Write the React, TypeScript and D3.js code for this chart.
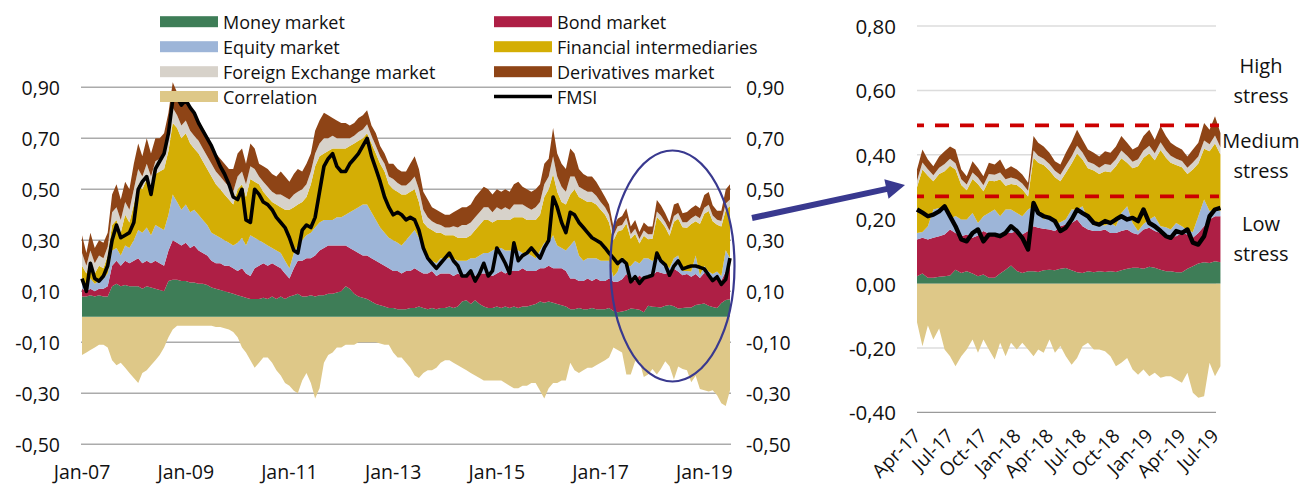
import React from "react";
import * as d3 from "d3";

// ---------------- LEFT PANEL: monthly, Jan-2007 .. Jul-2019 (151 months) ----------------
const leftStart = new Date(2007, 0, 1);

const moneyL = [
  0.08, 0.08, 0.085, 0.08, 0.085, 0.08, 0.08, 0.12, 0.13, 0.12,
  0.125, 0.12, 0.12, 0.12, 0.11, 0.12, 0.115, 0.11, 0.105, 0.10,
  0.14, 0.145, 0.145, 0.14, 0.14, 0.135, 0.135, 0.13, 0.13, 0.125,
  0.115, 0.11, 0.105, 0.10, 0.095, 0.09, 0.085, 0.08, 0.075, 0.07,
  0.07, 0.07, 0.075, 0.07, 0.08, 0.07, 0.08, 0.07, 0.08, 0.085,
  0.09, 0.08, 0.08, 0.085, 0.08, 0.085, 0.085, 0.09, 0.09, 0.095,
  0.10, 0.12, 0.11, 0.09, 0.08, 0.075, 0.07, 0.06, 0.05, 0.045,
  0.04, 0.035, 0.035, 0.03, 0.03, 0.03, 0.035, 0.035, 0.04, 0.035,
  0.03, 0.035, 0.03, 0.035, 0.035, 0.04, 0.035, 0.04, 0.06, 0.065,
  0.05, 0.065, 0.05, 0.04, 0.035, 0.035, 0.04, 0.035, 0.04, 0.035,
  0.04, 0.035, 0.04, 0.04, 0.045, 0.05, 0.06, 0.055, 0.06, 0.055,
  0.05, 0.045, 0.04, 0.03, 0.03, 0.035, 0.03, 0.03, 0.035, 0.03,
  0.03, 0.03, 0.035, 0.023, 0.018, 0.021, 0.025, 0.033, 0.031, 0.028,
  0.018, 0.043, 0.039, 0.038, 0.036, 0.043, 0.046, 0.041, 0.033, 0.035,
  0.036, 0.036, 0.046, 0.049, 0.052, 0.043, 0.038, 0.035, 0.054, 0.066,
  0.069,
];
const bondL = [
  0.03, 0.02, 0.025, 0.02, 0.025, 0.03, 0.04, 0.08, 0.09, 0.08,
  0.095, 0.09, 0.10, 0.11, 0.10, 0.10, 0.095, 0.11, 0.105, 0.10,
  0.12, 0.155, 0.145, 0.14, 0.15, 0.135, 0.145, 0.13, 0.12, 0.115,
  0.105, 0.10, 0.105, 0.10, 0.105, 0.10, 0.095, 0.11, 0.095, 0.09,
  0.12, 0.13, 0.135, 0.13, 0.13, 0.13, 0.11, 0.10, 0.07, 0.105,
  0.13, 0.14, 0.15, 0.145, 0.16, 0.175, 0.185, 0.19, 0.19, 0.185,
  0.18, 0.16, 0.16, 0.17, 0.17, 0.165, 0.17, 0.17, 0.17, 0.165,
  0.16, 0.155, 0.145, 0.15, 0.14, 0.15, 0.145, 0.155, 0.14, 0.135,
  0.14, 0.145, 0.13, 0.135, 0.135, 0.13, 0.125, 0.13, 0.10, 0.105,
  0.12, 0.095, 0.12, 0.13, 0.135, 0.125, 0.13, 0.145, 0.13, 0.145,
  0.14, 0.145, 0.15, 0.14, 0.135, 0.13, 0.13, 0.135, 0.14, 0.135,
  0.14, 0.145, 0.14, 0.12, 0.12, 0.105, 0.11, 0.12, 0.105, 0.12,
  0.11, 0.11, 0.115, 0.114, 0.119, 0.126, 0.143, 0.114, 0.111, 0.135,
  0.129, 0.114, 0.124, 0.14, 0.137, 0.125, 0.132, 0.147, 0.145, 0.128,
  0.132, 0.121, 0.122, 0.103, 0.121, 0.114, 0.109, 0.122, 0.088, 0.112,
  0.14,
];
const equityL = [
  0.03, 0.02, 0.04, 0.03, 0.03, 0.04, 0.05, 0.06, 0.05, 0.04,
  0.06, 0.06, 0.08, 0.11, 0.12, 0.13, 0.11, 0.14, 0.14, 0.14,
  0.14, 0.18, 0.16, 0.14, 0.15, 0.14, 0.14, 0.14, 0.13, 0.12,
  0.11, 0.11, 0.10, 0.10, 0.09, 0.09, 0.11, 0.12, 0.11, 0.16,
  0.12, 0.10, 0.08, 0.08, 0.06, 0.06, 0.06, 0.05, 0.04, 0.06,
  0.06, 0.08, 0.09, 0.10, 0.11, 0.11, 0.11, 0.10, 0.10, 0.11,
  0.11, 0.12, 0.14, 0.16, 0.18, 0.20, 0.20, 0.18, 0.16, 0.14,
  0.13, 0.12, 0.12, 0.11, 0.11, 0.12, 0.14, 0.15, 0.13, 0.10,
  0.07, 0.04, 0.05, 0.06, 0.06, 0.06, 0.07, 0.05, 0.06, 0.05,
  0.06, 0.07, 0.07, 0.08, 0.08, 0.10, 0.10, 0.09, 0.09, 0.08,
  0.08, 0.08, 0.06, 0.07, 0.06, 0.05, 0.07, 0.10, 0.09, 0.13,
  0.09, 0.08, 0.08, 0.13, 0.15, 0.10, 0.08, 0.08, 0.09, 0.08,
  0.08, 0.08, 0.07, 0.02, 0.041, 0.088, 0.032, 0.052, 0.077, 0.046,
  0.083, 0.073, 0.056, 0.062, 0.057, 0.041, 0.012, 0.042, 0.062, 0.017,
  0.012, 0.021, 0.072, 0.011, 0.026, 0.021, 0.021, 0.021, 0.018, 0.083,
  0.021,
];
const finIntL = [
  0.06, 0.05, 0.07, 0.04, 0.06, 0.04, 0.07, 0.10, 0.11, 0.09,
  0.12, 0.10, 0.14, 0.18, 0.17, 0.19, 0.17, 0.20, 0.22, 0.24,
  0.25, 0.28, 0.29, 0.28, 0.28, 0.27, 0.24, 0.24, 0.23, 0.22,
  0.22, 0.20, 0.19, 0.18, 0.17, 0.16, 0.21, 0.21, 0.19, 0.22,
  0.22, 0.22, 0.20, 0.19, 0.18, 0.18, 0.18, 0.20, 0.23, 0.18,
  0.16, 0.15, 0.15, 0.19, 0.24, 0.26, 0.26, 0.27, 0.28, 0.27,
  0.27, 0.26, 0.26, 0.26, 0.26, 0.26, 0.28, 0.27, 0.26, 0.25,
  0.24, 0.21, 0.20, 0.20, 0.20, 0.18, 0.17, 0.16, 0.14, 0.10,
  0.11, 0.12, 0.12, 0.10, 0.09, 0.09, 0.09, 0.09, 0.09, 0.09,
  0.09, 0.11, 0.12, 0.13, 0.13, 0.11, 0.11, 0.11, 0.12, 0.12,
  0.13, 0.13, 0.14, 0.13, 0.14, 0.15, 0.14, 0.18, 0.21, 0.24,
  0.21, 0.18, 0.18, 0.20, 0.20, 0.23, 0.24, 0.22, 0.22, 0.21,
  0.20, 0.18, 0.15, 0.142, 0.157, 0.105, 0.166, 0.107, 0.106, 0.078,
  0.088, 0.074, 0.087, 0.151, 0.145, 0.142, 0.128, 0.143, 0.145, 0.171,
  0.169, 0.186, 0.135, 0.201, 0.205, 0.237, 0.207, 0.183, 0.194, 0.158,
  0.205,
];
const fxL = [
  0.05, 0.03, 0.04, 0.04, 0.04, 0.04, 0.035, 0.05, 0.05, 0.05,
  0.05, 0.05, 0.06, 0.06, 0.05, 0.06, 0.06, 0.05, 0.05, 0.05,
  0.06, 0.06, 0.05, 0.05, 0.05, 0.05, 0.05, 0.05, 0.05, 0.05,
  0.05, 0.05, 0.05, 0.05, 0.05, 0.05, 0.05, 0.05, 0.05, 0.05,
  0.05, 0.03, 0.04, 0.04, 0.04, 0.04, 0.05, 0.05, 0.04, 0.05,
  0.05, 0.05, 0.05, 0.05, 0.05, 0.05, 0.06, 0.05, 0.05, 0.04,
  0.04, 0.04, 0.03, 0.03, 0.035, 0.035, 0.035, 0.03, 0.03, 0.03,
  0.03, 0.03, 0.04, 0.035, 0.035, 0.035, 0.04, 0.05, 0.05, 0.05,
  0.04, 0.035, 0.035, 0.03, 0.03, 0.03, 0.035, 0.04, 0.05, 0.05,
  0.05, 0.05, 0.05, 0.05, 0.05, 0.04, 0.05, 0.04, 0.05, 0.04,
  0.05, 0.05, 0.05, 0.05, 0.04, 0.05, 0.05, 0.05, 0.05, 0.07,
  0.06, 0.06, 0.05, 0.07, 0.05, 0.04, 0.04, 0.04, 0.04, 0.035,
  0.03, 0.03, 0.03, 0.02, 0.02, 0.02, 0.022, 0.018, 0.02, 0.018,
  0.02, 0.02, 0.018, 0.022, 0.022, 0.02, 0.02, 0.022, 0.022, 0.02,
  0.022, 0.022, 0.022, 0.022, 0.024, 0.024, 0.022, 0.02, 0.022, 0.025,
  0.025,
];
const derivL = [
  0.07, 0.05, 0.07, 0.06, 0.06, 0.06, 0.055, 0.07, 0.09, 0.08,
  0.08, 0.08, 0.10, 0.10, 0.08, 0.10, 0.09, 0.09, 0.08, 0.09,
  0.09, 0.10, 0.09, 0.09, 0.09, 0.09, 0.09, 0.08, 0.08, 0.08,
  0.08, 0.07, 0.07, 0.07, 0.07, 0.09, 0.09, 0.09, 0.08, 0.09,
  0.08, 0.05, 0.06, 0.07, 0.07, 0.07, 0.09, 0.08, 0.07, 0.08,
  0.09, 0.07, 0.08, 0.07, 0.09, 0.09, 0.10, 0.09, 0.07, 0.07,
  0.06, 0.06, 0.05, 0.05, 0.055, 0.055, 0.055, 0.04, 0.05, 0.04,
  0.04, 0.05, 0.06, 0.055, 0.055, 0.055, 0.07, 0.08, 0.08, 0.07,
  0.07, 0.055, 0.055, 0.05, 0.05, 0.05, 0.055, 0.07, 0.07, 0.07,
  0.07, 0.08, 0.08, 0.08, 0.07, 0.07, 0.07, 0.07, 0.07, 0.07,
  0.08, 0.09, 0.07, 0.07, 0.07, 0.07, 0.07, 0.08, 0.07, 0.11,
  0.09, 0.09, 0.09, 0.11, 0.09, 0.07, 0.06, 0.06, 0.06, 0.055,
  0.05, 0.04, 0.04, 0.035, 0.03, 0.035, 0.038, 0.03, 0.035, 0.028,
  0.032, 0.03, 0.03, 0.045, 0.04, 0.035, 0.032, 0.045, 0.04, 0.035,
  0.04, 0.04, 0.04, 0.04, 0.05, 0.05, 0.04, 0.035, 0.04, 0.055,
  0.06,
];
const correlationL = [
  -0.15, -0.14, -0.13, -0.12, -0.11, -0.11, -0.12, -0.17, -0.19, -0.18,
  -0.20, -0.22, -0.24, -0.26, -0.22, -0.21, -0.19, -0.17, -0.15, -0.12,
  -0.08, -0.05, -0.035, -0.035, -0.035, -0.035, -0.035, -0.035, -0.035, -0.035,
  -0.035, -0.04, -0.04, -0.045, -0.05, -0.06, -0.08, -0.12, -0.14, -0.17,
  -0.20, -0.18, -0.16, -0.16, -0.18, -0.21, -0.23, -0.26, -0.27, -0.29,
  -0.30, -0.25, -0.22, -0.26, -0.32, -0.28, -0.18, -0.15, -0.14, -0.12,
  -0.12, -0.11, -0.11, -0.11, -0.10, -0.10, -0.10, -0.10, -0.10, -0.105,
  -0.11, -0.11, -0.14, -0.16, -0.16, -0.18, -0.20, -0.23, -0.24, -0.22,
  -0.21, -0.21, -0.20, -0.18, -0.17, -0.17, -0.18, -0.19, -0.20, -0.21,
  -0.22, -0.23, -0.24, -0.25, -0.25, -0.25, -0.25, -0.25, -0.26, -0.27,
  -0.28, -0.28, -0.27, -0.27, -0.26, -0.26, -0.29, -0.32, -0.28, -0.26,
  -0.26, -0.25, -0.25, -0.18, -0.21, -0.22, -0.21, -0.20, -0.20, -0.19,
  -0.18, -0.17, -0.16, -0.12, -0.13, -0.14, -0.226, -0.226, -0.174, -0.174,
  -0.236, -0.226, -0.205, -0.226, -0.205, -0.174, -0.194, -0.246, -0.195, -0.205,
  -0.21, -0.257, -0.231, -0.283, -0.288, -0.293, -0.288, -0.308, -0.339, -0.35,
  -0.288,
];
const fmsiL = [
  0.15, 0.10, 0.21, 0.15, 0.14, 0.16, 0.20, 0.30, 0.36, 0.31,
  0.32, 0.33, 0.37, 0.50, 0.53, 0.55, 0.48, 0.58, 0.61, 0.64,
  0.72, 0.85, 0.86, 0.83, 0.85, 0.82, 0.80, 0.76, 0.73, 0.70,
  0.67, 0.63, 0.59, 0.56, 0.52, 0.47, 0.46, 0.50, 0.38, 0.37,
  0.50, 0.48, 0.45, 0.44, 0.42, 0.39, 0.37, 0.35, 0.31, 0.26,
  0.25, 0.34, 0.36, 0.35, 0.39, 0.49, 0.59, 0.62, 0.64, 0.59,
  0.57, 0.57, 0.60, 0.62, 0.64, 0.67, 0.70, 0.63, 0.58, 0.53,
  0.47, 0.43, 0.40, 0.41, 0.40, 0.38, 0.39, 0.38, 0.34, 0.27,
  0.23, 0.21, 0.19, 0.21, 0.23, 0.25, 0.22, 0.20, 0.16, 0.16,
  0.18, 0.14, 0.17, 0.21, 0.16, 0.18, 0.27, 0.24, 0.21, 0.17,
  0.29, 0.22, 0.24, 0.25, 0.27, 0.25, 0.23, 0.27, 0.30, 0.47,
  0.43, 0.37, 0.33, 0.41, 0.40, 0.37, 0.35, 0.33, 0.31, 0.30,
  0.29, 0.27, 0.25, 0.23, 0.209, 0.224, 0.209, 0.137, 0.157, 0.131,
  0.152, 0.157, 0.163, 0.25, 0.219, 0.204, 0.163, 0.199, 0.219, 0.188,
  0.194, 0.199, 0.199, 0.194, 0.188, 0.163, 0.142, 0.157, 0.127, 0.147,
  0.23,
];

// ---------------- RIGHT PANEL: half-monthly, Apr-2017 .. mid Jul-2019 (56 points) ----------------
const rightStart = new Date(2017, 3, 1);

const moneyR = [
  0.023, 0.031, 0.018, 0.018, 0.021, 0.023, 0.025, 0.043, 0.033, 0.038,
  0.031, 0.023, 0.028, 0.018, 0.018, 0.031, 0.043, 0.056, 0.039, 0.033,
  0.038, 0.038, 0.036, 0.041, 0.043, 0.041, 0.046, 0.048, 0.041, 0.035,
  0.033, 0.038, 0.035, 0.038, 0.036, 0.038, 0.036, 0.041, 0.046, 0.049,
  0.049, 0.046, 0.052, 0.049, 0.043, 0.038, 0.038, 0.035, 0.035, 0.046,
  0.054, 0.062, 0.066, 0.064, 0.069, 0.066,
];
const bondR = [
  0.114, 0.111, 0.119, 0.124, 0.126, 0.129, 0.143, 0.114, 0.114, 0.114,
  0.111, 0.126, 0.135, 0.137, 0.129, 0.121, 0.114, 0.101, 0.124, 0.119,
  0.125, 0.14, 0.137, 0.129, 0.125, 0.122, 0.132, 0.135, 0.147, 0.164,
  0.145, 0.13, 0.128, 0.125, 0.132, 0.119, 0.121, 0.122, 0.122, 0.108,
  0.103, 0.122, 0.121, 0.114, 0.114, 0.114, 0.109, 0.112, 0.122, 0.106,
  0.088, 0.095, 0.112, 0.135, 0.14, 0.143,
];
const equityR = [
  0.02, 0.018, 0.041, 0.088, 0.088, 0.078, 0.032, 0.053, 0.052, 0.047,
  0.077, 0.039, 0.046, 0.064, 0.083, 0.057, 0.073, 0.073, 0.056, 0.057,
  0.067, 0.062, 0.057, 0.029, 0.041, 0.022, 0.012, 0.017, 0.042, 0.031,
  0.062, 0.031, 0.017, 0.02, 0.012, 0.031, 0.021, 0.056, 0.072, 0.031,
  0.011, 0.017, 0.026, 0.046, 0.021, 0.023, 0.021, 0.041, 0.021, 0.013,
  0.018, 0.052, 0.083, 0.026, 0.021, 0.016,
];
const finIntR = [
  0.142, 0.194, 0.157, 0.088, 0.105, 0.119, 0.166, 0.144, 0.107, 0.091,
  0.106, 0.121, 0.078, 0.101, 0.088, 0.114, 0.074, 0.079, 0.087, 0.084,
  0.04, 0.151, 0.145, 0.169, 0.142, 0.145, 0.128, 0.144, 0.143, 0.174,
  0.145, 0.159, 0.171, 0.157, 0.169, 0.158, 0.186, 0.17, 0.135, 0.17,
  0.201, 0.206, 0.205, 0.174, 0.237, 0.216, 0.207, 0.18, 0.183, 0.175,
  0.194, 0.164, 0.158, 0.186, 0.205, 0.176,
];
const fxR = [
  0.02, 0.022, 0.02, 0.018, 0.02, 0.022, 0.022, 0.02, 0.018, 0.018,
  0.02, 0.02, 0.018, 0.02, 0.02, 0.022, 0.02, 0.02, 0.018, 0.018,
  0.018, 0.022, 0.022, 0.02, 0.02, 0.02, 0.02, 0.022, 0.022, 0.024,
  0.022, 0.02, 0.02, 0.02, 0.022, 0.022, 0.022, 0.024, 0.022, 0.02,
  0.022, 0.022, 0.024, 0.022, 0.024, 0.022, 0.022, 0.02, 0.02, 0.02,
  0.022, 0.022, 0.025, 0.022, 0.025, 0.022,
];
const derivR = [
  0.035, 0.04, 0.03, 0.028, 0.035, 0.04, 0.038, 0.042, 0.03, 0.025,
  0.035, 0.03, 0.028, 0.035, 0.032, 0.04, 0.03, 0.035, 0.03, 0.028,
  0.025, 0.045, 0.04, 0.038, 0.035, 0.03, 0.032, 0.04, 0.045, 0.05,
  0.04, 0.038, 0.035, 0.035, 0.04, 0.038, 0.04, 0.045, 0.04, 0.038,
  0.04, 0.045, 0.05, 0.042, 0.05, 0.045, 0.04, 0.038, 0.035, 0.035,
  0.04, 0.042, 0.055, 0.045, 0.06, 0.045,
];
const correlationR = [
  -0.12, -0.195, -0.13, -0.174, -0.14, -0.205, -0.226, -0.257, -0.226, -0.205,
  -0.174, -0.215, -0.174, -0.205, -0.236, -0.184, -0.226, -0.184, -0.205, -0.184,
  -0.205, -0.226, -0.205, -0.215, -0.174, -0.215, -0.194, -0.226, -0.252, -0.231,
  -0.195, -0.184, -0.205, -0.205, -0.21, -0.226, -0.257, -0.246, -0.231, -0.267,
  -0.283, -0.267, -0.288, -0.277, -0.293, -0.288, -0.288, -0.298, -0.308, -0.277,
  -0.339, -0.355, -0.35, -0.246, -0.288, -0.257,
];
const fmsiR = [
  0.23, 0.22, 0.209, 0.214, 0.224, 0.24, 0.209, 0.178, 0.137, 0.131,
  0.157, 0.168, 0.131, 0.152, 0.152, 0.147, 0.157, 0.178, 0.163, 0.142,
  0.106, 0.25, 0.219, 0.209, 0.204, 0.194, 0.163, 0.173, 0.199, 0.23,
  0.219, 0.209, 0.188, 0.183, 0.194, 0.188, 0.199, 0.209, 0.199, 0.204,
  0.194, 0.23, 0.188, 0.178, 0.163, 0.147, 0.142, 0.163, 0.157, 0.168,
  0.127, 0.121, 0.147, 0.209, 0.23, 0.235,
];

// ---------------- ticks / thresholds ----------------
const leftYTicks = [-0.5, -0.3, -0.1, 0.1, 0.3, 0.5, 0.7, 0.9];
const rightYTicks = [-0.4, -0.2, 0.0, 0.2, 0.4, 0.6, 0.8];
const stressThresholds = [0.271, 0.491];
const stressLabels = [
  ["High", "stress"],
  ["Medium", "stress"],
  ["Low", "stress"],
];

const seriesKeys = ["money", "bond", "equity", "finInt", "fx", "deriv"];
const seriesLabels: Record<string, string> = {
  money: "Money market",
  bond: "Bond market",
  equity: "Equity market",
  finInt: "Financial intermediaries",
  fx: "Foreign Exchange market",
  deriv: "Derivatives market",
};
const colors: Record<string, string> = {
  money: "#3e7d57",
  bond: "#ae1f45",
  equity: "#9db5d8",
  finInt: "#d4ae05",
  fx: "#d7d2ca",
  deriv: "#8e4416",
  corr: "#dec888",
  fmsi: "#000000",
};
const accent = "#39398f";
const FONT = "'Open Sans', 'Noto Sans', 'DejaVu Sans', sans-serif";

type Row = { date: Date; [k: string]: any };

function buildRows(dates: Date[], arrs: Record<string, number[]>, corr: number[], fmsi: number[]): Row[] {
  const n = Math.min(dates.length, ...Object.values(arrs).map((a) => a.length), corr.length, fmsi.length);
  const rows: Row[] = [];
  for (let i = 0; i < n; i++) {
    const r: Row = { date: dates[i], corr: corr[i], fmsi: fmsi[i] };
    for (const k of seriesKeys) r[k] = arrs[k][i];
    rows.push(r);
  }
  return rows;
}

const leftDates = moneyL.map((_, i) => d3.timeMonth.offset(leftStart, i));
const rightDates = moneyR.map((_, i) => {
  const m = d3.timeMonth.offset(rightStart, Math.floor(i / 2));
  return i % 2 === 0 ? m : d3.timeDay.offset(m, 15);
});

const leftRows = buildRows(
  leftDates,
  { money: moneyL, bond: bondL, equity: equityL, finInt: finIntL, fx: fxL, deriv: derivL },
  correlationL,
  fmsiL
);
const rightRows = buildRows(
  rightDates,
  { money: moneyR, bond: bondR, equity: equityR, finInt: finIntR, fx: fxR, deriv: derivR },
  correlationR,
  fmsiR
);

const locale = d3.formatLocale({ decimal: ",", thousands: ".", grouping: [3], currency: ["", ""], minus: "-" });
const fmt2 = locale.format(".2f");
const fmtDate = d3.timeFormat("%b-%y");

function Panel({
  rows,
  x,
  y,
  fmsiWidth,
}: {
  rows: Row[];
  x: d3.ScaleTime<number, number>;
  y: d3.ScaleLinear<number, number>;
  fmsiWidth: number;
}) {
  const stack = d3.stack<Row>().keys(seriesKeys);
  const layers = stack(rows);
  const area = d3
    .area<d3.SeriesPoint<Row>>()
    .x((d) => x(d.data.date))
    .y0((d) => y(d[0]))
    .y1((d) => y(d[1]));
  const corrArea = d3
    .area<Row>()
    .x((d) => x(d.date))
    .y0(() => y(0))
    .y1((d) => y(d.corr));
  const line = d3
    .line<Row>()
    .x((d) => x(d.date))
    .y((d) => y(d.fmsi))
    .curve(d3.curveLinear);
  return (
    <g>
      <path d={corrArea(rows) || ""} fill={colors.corr} />
      {layers.map((l) => (
        <path key={l.key} d={area(l) || ""} fill={colors[l.key]} />
      ))}
      <path d={line(rows) || ""} fill="none" stroke={colors.fmsi} strokeWidth={fmsiWidth} strokeLinejoin="round" />
    </g>
  );
}

export default function App() {
  const W = 1312;
  const H = 488;

  // left panel scales
  const xL = d3.scaleTime().domain([leftStart, new Date(2019, 6, 1)]).range([82, 730]);
  const yL = d3.scaleLinear().domain([-0.5, 0.9]).range([444.3, 87.3]);
  const leftXTicks = d3.timeYear.range(new Date(2007, 0, 1), new Date(2019, 1, 1), 2);

  // right panel scales
  const xR = d3.scaleTime().domain([rightStart, new Date(2019, 6, 1)]).range([917, 1215]);
  const yR = d3.scaleLinear().domain([-0.4, 0.8]).range([412.3, 26]);
  const rightXTicks = d3.timeMonth.range(rightStart, new Date(2019, 6, 2), 3);

  // arrow geometry
  const a0 = [752, 218];
  const a1 = [905, 185];
  const dx = a1[0] - a0[0];
  const dy = a1[1] - a0[1];
  const len = Math.hypot(dx, dy);
  const ux = dx / len;
  const uy = dy / len;
  const nx = -uy;
  const ny = ux;
  const headL = 19;
  const headW = 10;
  const bx = a1[0] - ux * headL;
  const by = a1[1] - uy * headL;

  const legendLeft = [
    { key: "money", y: 21.7 },
    { key: "equity", y: 46.7 },
    { key: "fx", y: 71.7 },
    { key: "corr", y: 96.5, label: "Correlation" },
  ];
  const legendRight = [
    { key: "bond", y: 21.7 },
    { key: "finInt", y: 46.7 },
    { key: "deriv", y: 71.7 },
    { key: "fmsi", y: 96.5, label: "FMSI" },
  ];

  return (
    <svg
      width={W}
      height={H}
      viewBox={`0 0 ${W} ${H}`}
      style={{ position: "absolute", left: 0, top: 0, background: "#fff" }}
      fontFamily={FONT}
    >
      <rect x={0} y={0} width={W} height={H} fill="#fff" />

      {/* ---------- LEFT PANEL ---------- */}
      {leftYTicks.map((t) => (
        <line key={"gl" + t} x1={81} x2={731} y1={yL(t)} y2={yL(t)} stroke="#ababab" strokeWidth={1.6} />
      ))}
      <Panel rows={leftRows} x={xL} y={yL} fmsiWidth={3.6} />
      {leftYTicks.map((t) => (
        <g key={"ll" + t}>
          <text x={60} y={yL(t)} textAnchor="end" dominantBaseline="central" fontSize={19.5} fill="#111">
            {fmt2(t)}
          </text>
          <text x={746} y={yL(t)} textAnchor="start" dominantBaseline="central" fontSize={19.5} fill="#111">
            {fmt2(t)}
          </text>
        </g>
      ))}
      {leftXTicks.map((d) => (
        <text key={"lx" + d.getTime()} x={xL(d)} y={479} textAnchor="middle" fontSize={19.5} fill="#111">
          {fmtDate(d)}
        </text>
      ))}

      {/* legend */}
      {legendLeft.map((l) => (
        <g key={"lgL" + l.key}>
          <rect x={160} y={l.y - 5.5} width={58} height={11} fill={colors[l.key]} />
          <text x={223} y={l.y} dominantBaseline="central" fontSize={18} fill="#111">
            {l.label || seriesLabels[l.key]}
          </text>
        </g>
      ))}
      {legendRight.map((l) => (
        <g key={"lgR" + l.key}>
          {l.key === "fmsi" ? (
            <line x1={494} x2={552} y1={l.y} y2={l.y} stroke="#000" strokeWidth={3.5} />
          ) : (
            <rect x={494} y={l.y - 5.5} width={58} height={11} fill={colors[l.key]} />
          )}
          <text x={557} y={l.y} dominantBaseline="central" fontSize={18} fill="#111">
            {l.label || seriesLabels[l.key]}
          </text>
        </g>
      ))}

      {/* ellipse highlight */}
      <ellipse cx={672.5} cy={266} rx={62} ry={115.5} fill="none" stroke={accent} strokeWidth={2.2} />

      {/* arrow */}
      <line x1={a0[0]} y1={a0[1]} x2={bx + ux * 2} y2={by + uy * 2} stroke={accent} strokeWidth={6} />
      <polygon
        points={`${a1[0]},${a1[1]} ${bx + nx * headW},${by + ny * headW} ${bx - nx * headW},${by - ny * headW}`}
        fill={accent}
      />

      {/* ---------- RIGHT PANEL ---------- */}
      {rightYTicks.map((t) => (
        <line
          key={"gr" + t}
          x1={917}
          x2={1216}
          y1={yR(t)}
          y2={yR(t)}
          stroke={t === -0.4 ? "#9a9a9a" : "#dcdcdc"}
          strokeWidth={t === -0.4 ? 1.3 : 1.5}
        />
      ))}
      <Panel rows={rightRows} x={xR} y={yR} fmsiWidth={4.4} />
      {stressThresholds.map((t) => (
        <line
          key={"th" + t}
          x1={917}
          x2={1219}
          y1={yR(t)}
          y2={yR(t)}
          stroke="#cc0000"
          strokeWidth={3.8}
          strokeDasharray="14 11"
          strokeDashoffset={7}
        />
      ))}
      {rightYTicks.map((t) => (
        <text key={"rl" + t} x={896} y={yR(t)} textAnchor="end" dominantBaseline="central" fontSize={20.5} fill="#111">
          {fmt2(t)}
        </text>
      ))}
      {rightXTicks.map((d) => (
        <text
          key={"rx" + d.getTime()}
          transform={`translate(${xR(d) + 5},${437}) rotate(-45)`}
          textAnchor="end"
          fontSize={19}
          fill="#111"
        >
          {fmtDate(d)}
        </text>
      ))}
      {/* stress zone labels */}
      {stressLabels.map((pair, i) => {
        const ys = [
          [65, 95],
          [140, 170],
          [223, 253],
        ][i];
        return (
          <g key={"sl" + i}>
            <text x={1261} y={ys[0]} textAnchor="middle" dominantBaseline="central" fontSize={20} fill="#111">
              {pair[0]}
            </text>
            <text x={1261} y={ys[1]} textAnchor="middle" dominantBaseline="central" fontSize={20} fill="#111">
              {pair[1]}
            </text>
          </g>
        );
      })}
    </svg>
  );
}
